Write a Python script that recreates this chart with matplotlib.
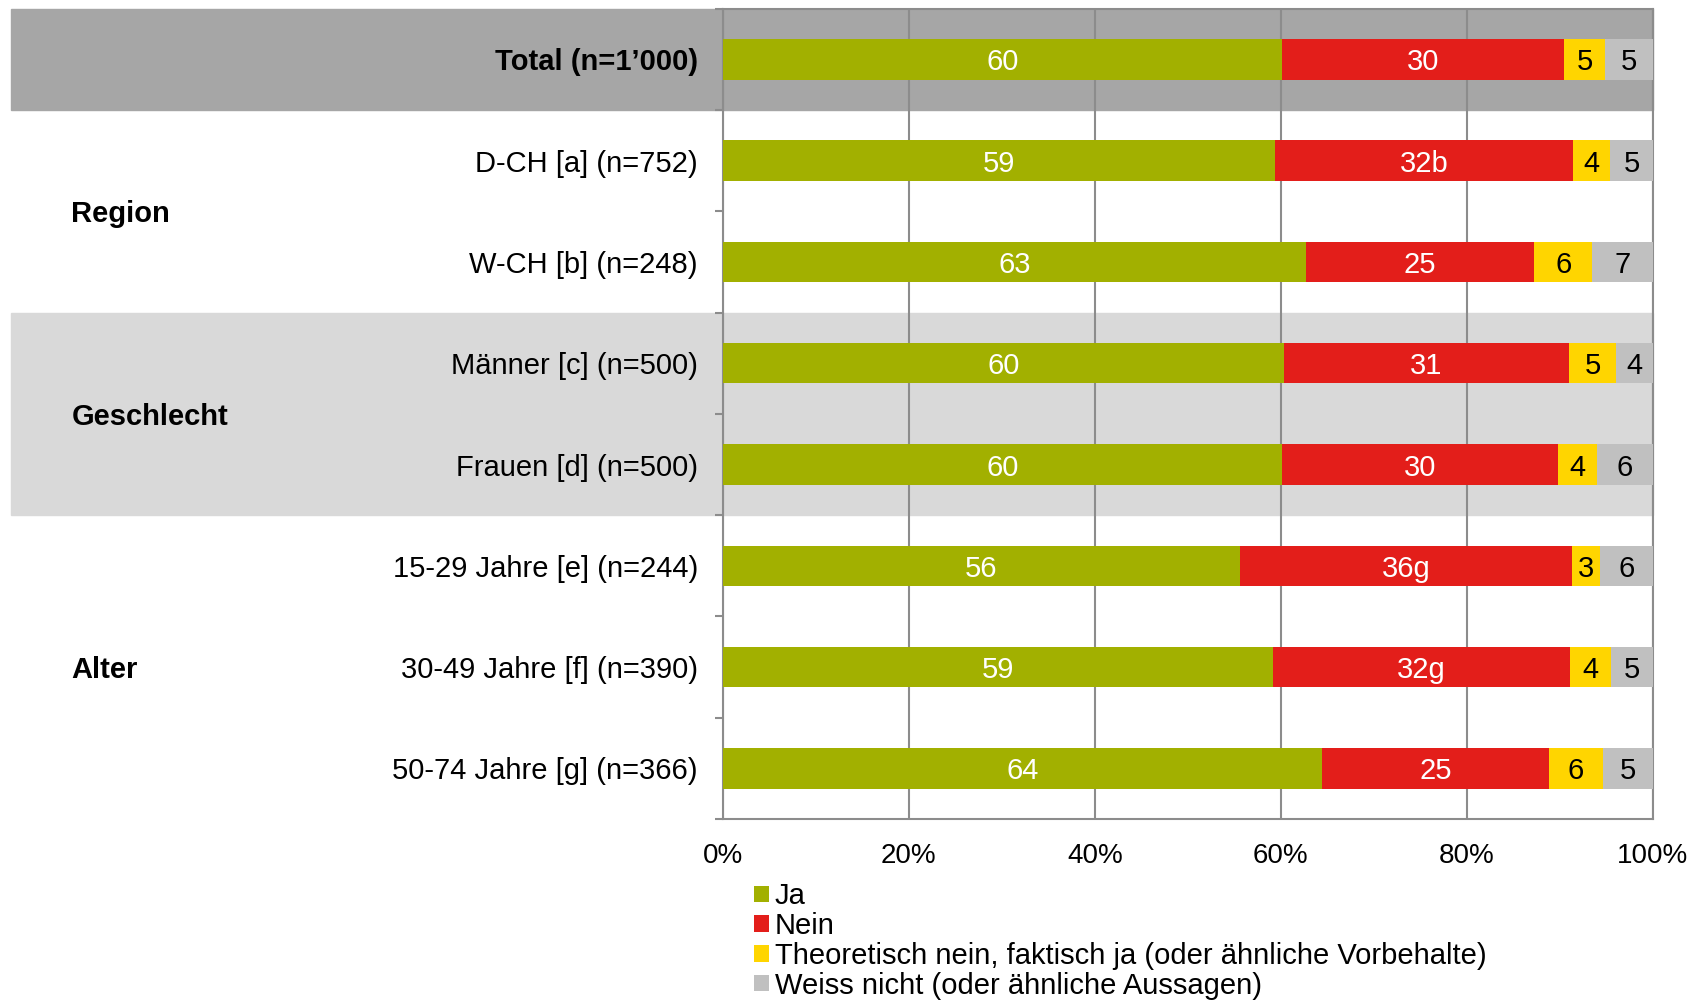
import numpy as np
import matplotlib.pyplot as plt
import matplotlib.transforms as mtransforms
from matplotlib.patches import Rectangle

plt.rcParams['font.family'] = ['Liberation Sans', 'DejaVu Sans']

# data (percent)
categories = ['Total (n=1’000)', 'D-CH [a] (n=752)', 'W-CH [b] (n=248)',
              'Männer [c] (n=500)', 'Frauen [d] (n=500)',
              '15-29 Jahre [e] (n=244)', '30-49 Jahre [f] (n=390)',
              '50-74 Jahre [g] (n=366)']
ja = [60.1, 59.4, 62.7, 60.3, 60.1, 55.6, 59.1, 64.4]
nein = [30.3, 32.0, 24.5, 30.7, 29.7, 35.7, 32.0, 24.4]
vorbehalte = [4.5, 4.0, 6.3, 5.0, 4.2, 3.0, 4.4, 5.8]
weiss = [5.1, 4.6, 6.5, 4.0, 6.0, 5.7, 4.5, 5.4]

lab_ja = ['60', '59', '63', '60', '60', '56', '59', '64']
lab_nein = ['30', '32b', '25', '31', '30', '36g', '32g', '25']
lab_vor = ['5', '4', '6', '5', '4', '3', '4', '6']
lab_weiss = ['5', '5', '7', '4', '6', '6', '5', '5']

series_names = ['Ja', 'Nein',
                'Theoretisch nein, faktisch ja (oder ähnliche Vorbehalte)',
                'Weiss nicht (oder ähnliche Aussagen)']
colors = ['#A2B000', '#E31E1A', '#FFD500', '#C0C0C0']
text_colors = ['white', 'white', 'black', 'black']

groups = ['Region', 'Geschlecht', 'Alter']
group_rows = [[1, 2], [3, 4], [5, 6, 7]]

fig = plt.figure(figsize=(16.97, 10.02), dpi=100)
ax = fig.add_axes([0.426, 0.1826, 0.548, 0.8087])

y = np.arange(len(categories))
left = np.zeros(len(categories))
grid_col = '#8C8C8C'

for vals, labs, name, c, tc in zip([ja, nein, vorbehalte, weiss],
                                   [lab_ja, lab_nein, lab_vor, lab_weiss],
                                   series_names, colors, text_colors):
    bars = ax.barh(y, vals, left=left, height=0.4, color=c, label=name, zorder=3)
    for t in ax.bar_label(bars, labels=labs, label_type='center', color=tc, fontsize=21):
        t.set_va('center_baseline')
    left += np.array(vals)

ax.set_xlim(0, 100)
ax.set_ylim(len(categories) - 0.5, -0.5)

# shaded bands behind Total and Geschlecht rows
band = mtransforms.blended_transform_factory(fig.transFigure, ax.transData)
for r0, r1, bc in [(0, 0, '#A6A6A6'), (3, 4, '#D9D9D9')]:
    ax.add_patch(Rectangle((0.0064, r0 - 0.5), 0.974 - 0.0064, r1 - r0 + 1,
                           transform=band, color=bc, zorder=0.1, clip_on=False))

ax.set_axisbelow(True)
ax.xaxis.grid(True, color=grid_col, lw=1.5)
ax.set_xticks(np.arange(0, 101, 20))
ax.set_xticklabels([f'{v}%' for v in range(0, 101, 20)], fontsize=20)
ax.tick_params(axis='x', length=0, pad=17)

ax.set_yticks(y)
ax.set_yticklabels(categories, fontsize=21)
ax.get_yticklabels()[0].set_fontweight('bold')
ax.tick_params(axis='y', which='major', length=0, pad=18)
ax.set_yticks(np.arange(len(categories) + 1) - 0.5, minor=True)
ax.tick_params(axis='y', which='minor', length=6, width=1.5, color=grid_col)

for s in ax.spines.values():
    s.set_color(grid_col)
    s.set_linewidth(1.5)
ax.set_facecolor('none')

for g, rows in zip(groups, group_rows):
    ax.text(0.042, np.mean(rows), g, transform=band, fontsize=21,
            fontweight='bold', va='center_baseline', ha='left')

ax.legend(loc='upper left', bbox_to_anchor=(0.4445, 0.1195),
          bbox_transform=fig.transFigure, frameon=False, fontsize=21,
          handlelength=0.5, handleheight=0.5, handletextpad=0.2,
          labelspacing=0.06, borderpad=0, borderaxespad=0)

fig.savefig('out.png', dpi=100)
